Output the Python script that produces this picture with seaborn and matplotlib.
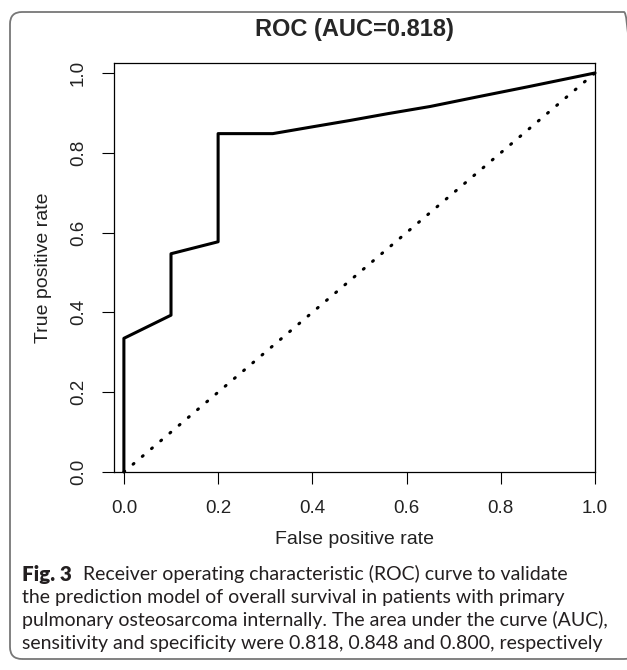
import numpy as np
import pandas as pd
import matplotlib
matplotlib.use("Agg")
import matplotlib.pyplot as plt
from matplotlib.patches import FancyBboxPatch
import seaborn as sns

# ROC curve
fpr = [0.0, 0.0, 0.1, 0.1, 0.2, 0.2, 0.316, 0.40, 0.48, 0.56, 0.65, 0.75, 0.86, 1.0]
tpr = [0.0, 0.335, 0.393, 0.547, 0.577, 0.848, 0.848, 0.865, 0.881, 0.898, 0.916, 0.940, 0.966, 1.0]
ref_x = [0.0, 1.0]
ref_y = [0.0, 1.0]

tick_vals = [0.0, 0.2, 0.4, 0.6, 0.8, 1.0]
tick_labels = ["0.0", "0.2", "0.4", "0.6", "0.8", "1.0"]

title = "ROC (AUC=0.818)"
xlabel = "False positive rate"
ylabel = "True positive rate"
caption_bold = "Fig. 3"
caption_lines = [
    "Receiver operating characteristic (ROC) curve to validate",
    "the prediction model of overall survival in patients with primary",
    "pulmonary osteosarcoma internally. The area under the curve (AUC),",
    "sensitivity and specificity were 0.818, 0.848 and 0.800, respectively",
]

sns.set_style("ticks")
plt.rcParams['font.family'] = ['Liberation Sans', 'DejaVu Sans']

W, H = 627, 670
fig = plt.figure(figsize=(W / 100, H / 100), dpi=100)
ax = fig.add_axes([114 / W, 1 - 472 / H, (595 - 114) / W, (472 - 63) / H])

roc = pd.DataFrame({"fpr": fpr, "tpr": tpr})
sns.lineplot(data=roc, x="fpr", y="tpr", sort=False, estimator=None,
             color="black", linewidth=2.2, ax=ax, clip_on=False)
sns.lineplot(x=ref_x, y=ref_y, sort=False, estimator=None, color="black",
             linewidth=2.2, linestyle=(0, (0.35, 3.6)), dash_capstyle="round",
             ax=ax)

ax.set_xlim(-0.021, 1.0)
ax.set_ylim(0.0, 1.025)
ax.set_xticks(tick_vals)
ax.set_xticklabels(tick_labels)
ax.set_yticks(tick_vals)
ax.set_yticklabels(tick_labels, rotation=90, va="center")
ax.tick_params(axis="both", length=8.5, width=0.8, color="black",
               labelsize=13.5, labelcolor="#222222")
ax.tick_params(axis="x", pad=12)
ax.tick_params(axis="y", pad=11)
for s in ax.spines.values():
    s.set_color("black")
    s.set_linewidth(0.9)

ax.set_xlabel(xlabel, fontsize=14, color="#222222", va="center")
ax.set_ylabel(ylabel, fontsize=14, color="#222222", va="center")
ax.xaxis.set_label_coords(0.5, -(540 - 472) / (472 - 63))
ax.yaxis.set_label_coords(-(114 - 44) / (595 - 114), 0.5)
ax.set_title(title, fontsize=17, fontweight="bold", y=1 + (63 - 38) / (472 - 63),
             va="center")

# rounded frame around the figure
frame = FancyBboxPatch((0.10, 0.11), 6.26, 6.47, boxstyle="round,pad=0,rounding_size=0.12",
                       transform=fig.dpi_scale_trans, facecolor="none",
                       edgecolor="#777777", linewidth=1.3, zorder=0)
fig.patches.append(frame)

# caption: size chosen so the widest line spans about 22..607 px
cap_font = ['Lato', 'DejaVu Sans']
r = fig.canvas.get_renderer()
probe = fig.text(0, 0, caption_lines[2], fontsize=13, family=cap_font)
w13 = probe.get_window_extent(r).width
probe.remove()
cap_size = 13 * (607 - 22) / w13

line_y = [574, 597, 620, 643]
tb = fig.text(22 / W, 1 - line_y[0] / H, caption_bold, fontsize=cap_size * 1.05,
              fontweight="heavy", family=cap_font, va="center", color="#231f20")
bx = tb.get_window_extent(r).x1
fig.text((bx + 11) / W, 1 - line_y[0] / H, caption_lines[0], fontsize=cap_size,
         family=cap_font, va="center", color="#231f20")
for yy, txt in zip(line_y[1:], caption_lines[1:]):
    fig.text(22 / W, 1 - yy / H, txt, fontsize=cap_size, family=cap_font,
             va="center", color="#231f20")

fig.savefig("out.png", dpi=100)
